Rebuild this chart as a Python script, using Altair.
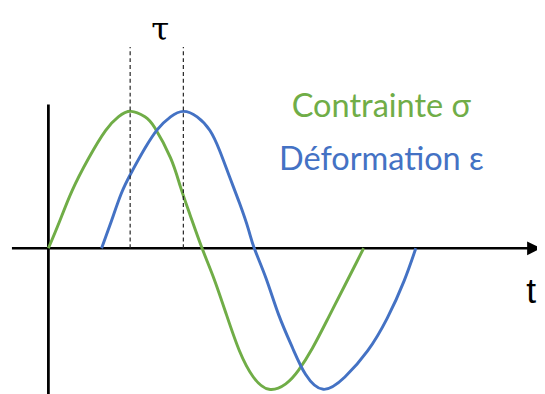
import altair as alt
import pandas as pd

# Stress (green) and strain (blue) curves: time t, amplitude a (peak = 1)
green_t = [0, 11, 24, 41, 58, 71, 84, 98, 108, 124, 134, 144, 156, 168, 181, 194, 208, 224, 241, 254, 268, 284, 301, 313, 320]
green_a = [0, 0.19, 0.42, 0.66, 0.86, 0.96, 1.0, 0.96, 0.88, 0.66, 0.45, 0.24, 0, -0.22, -0.49, -0.75, -0.94, -1.03, -0.99, -0.89, -0.73, -0.51, -0.27, -0.10, 0]

blue_t = [54, 64, 74, 84, 98, 111, 124, 137, 151, 164, 174, 184, 194, 203, 209, 221, 234, 248, 261, 279, 301, 324, 344, 361, 373]
blue_a = [0, 0.20, 0.40, 0.55, 0.73, 0.87, 0.96, 1.0, 0.96, 0.86, 0.71, 0.52, 0.33, 0.14, 0, -0.22, -0.49, -0.73, -0.92, -1.03, -0.94, -0.75, -0.51, -0.24, 0]

# Peak times marking the lag tau
tau_t = [83, 137]
tau_top = 1.47

labels = ["Contrainte σ", "Déformation ε"]
GREEN = "#70AD47"
BLUE = "#4472C4"

W, H = 537, 386
xs = alt.Scale(domain=[-41, 496], nice=False, zero=False)
ys = alt.Scale(domain=[-145 / 139, 241 / 139], nice=False, zero=False)

def X(f="t"):
    return alt.X(f"{f}:Q", scale=xs, axis=None)

def Y(f="a"):
    return alt.Y(f"{f}:Q", scale=ys, axis=None)

green_df = pd.DataFrame({"t": green_t, "a": green_a})
blue_df = pd.DataFrame({"t": blue_t, "a": blue_a})
tau_df = pd.DataFrame({"t": tau_t, "a": [0] * len(tau_t), "a2": [tau_top] * len(tau_t)})

dashed = alt.Chart(tau_df).mark_rule(color="#222222", strokeWidth=1.2, strokeDash=[4, 3]).encode(
    x=X(), y=Y(), y2="a2:Q")

green = alt.Chart(green_df).mark_line(color=GREEN, strokeWidth=3, interpolate="natural").encode(
    x=X(), y=Y(), order="t:Q")
blue = alt.Chart(blue_df).mark_line(color=BLUE, strokeWidth=3, interpolate="natural").encode(
    x=X(), y=Y(), order="t:Q")

haxis_df = pd.DataFrame({"t": [-37], "t2": [488], "a": [0]})
haxis = alt.Chart(haxis_df).mark_rule(color="black", strokeWidth=2.6).encode(
    x=X(), x2="t2:Q", y=Y())
vaxis_df = pd.DataFrame({"t": [0], "a": [1.05], "a2": [-1.2]})
vaxis = alt.Chart(vaxis_df).mark_rule(color="black", strokeWidth=2.8).encode(
    x=X(), y=Y(), y2="a2:Q")
arrow_df = pd.DataFrame({"t": [493], "a": [0]})
arrow = alt.Chart(arrow_df).mark_point(shape="M-1,-1L1,0L-1,1Z", size=196, filled=True,
                                       color="black", opacity=1).encode(x=X(), y=Y())

tau_lbl = alt.Chart(pd.DataFrame({"t": [113.5], "a": [(249 - 38) / 139], "s": ["τ"]})).mark_text(
    font="DejaVu Serif", fontSize=33, color="black", baseline="alphabetic", align="center").encode(
    x=X(), y=Y(), text="s:N")
t_lbl = alt.Chart(pd.DataFrame({"t": [495], "a": [-0.396], "s": ["t"]})).mark_text(
    font="Liberation Sans", fontSize=36, color="black", baseline="alphabetic", align="right").encode(
    x=X(), y=Y(), text="s:N")

lbl1 = alt.Chart(pd.DataFrame({"t": [338], "a": [(249 - 116) / 139], "s": [labels[0]]})).mark_text(
    font="Lato", fontSize=33, color=GREEN, baseline="alphabetic", align="center").encode(
    x=X(), y=Y(), text="s:N")
lbl2 = alt.Chart(pd.DataFrame({"t": [338], "a": [(249 - 170) / 139], "s": [labels[1]]})).mark_text(
    font="Lato", fontSize=33, color=BLUE, baseline="alphabetic", align="center").encode(
    x=X(), y=Y(), text="s:N")

chart = alt.layer(haxis, vaxis, arrow, green, blue, dashed, tau_lbl, t_lbl, lbl1, lbl2).properties(
    width=W, height=H, autosize=alt.AutoSizeParams(type="none"), padding=0,
    background="white"
).configure_view(stroke=None)

chart.save("out.html", embed_options={"renderer": "svg", "actions": False})
